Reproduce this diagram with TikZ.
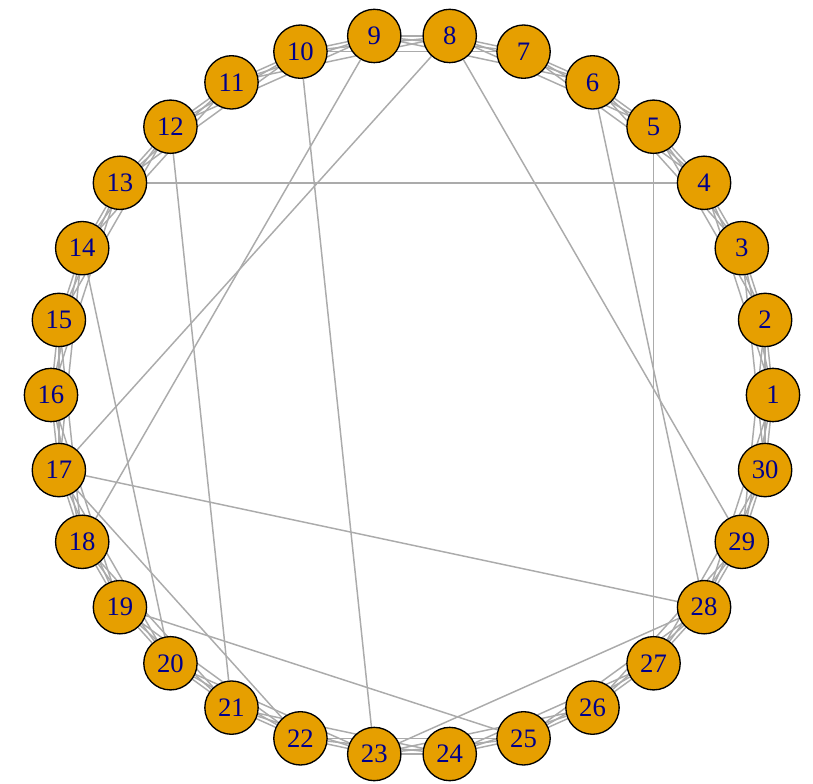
\documentclass[tikz,border=0pt]{standalone}
\usepackage{fontspec}
\setmainfont{Liberation Serif}
\usetikzlibrary{backgrounds}
\definecolor{vfill}{HTML}{E69F00}
\definecolor{vlabel}{HTML}{00008B}
\definecolor{edgegray}{HTML}{ABABAB}

\begin{document}
\begin{tikzpicture}[
    x=0.75pt, y=0.75pt,
    vertex/.style={
        circle, draw=black, line width=1pt,
        fill=vfill, text=vlabel,
        minimum size=40pt, inner sep=0pt,
        font=\fontsize{20}{22}\selectfont,
    },
    link/.style={
        edgegray,
        line width=1.1pt,
    },
]
\useasboundingbox (-412,-389) rectangle (401,395);

% =============================================
% VERTICES – 30 on a ring, 1 on the right, counter-clockwise
% =============================================
\foreach \k in {1,...,30} {
  \pgfmathsetmacro\ang{12*(\k-1)}
  \node[vertex] (v\k) at (\ang:361) {\k};
}

\begin{pgfonlayer}{background}
  % Ring lattice: each vertex to its three next neighbours
  \foreach \a in {1,...,30} {
    \foreach \d in {1,2,3} {
      \pgfmathtruncatemacro\b{mod(\a+\d-1,30)+1}
      \draw[link] (v\a) -- (v\b);
    }
  }
  % Rewired shortcuts across the ring
  \foreach \a/\b in {13/4, 10/23, 12/21, 9/18, 8/17, 8/29, 6/28, 5/27,
                     14/20, 17/28, 17/22, 19/25, 23/28} {
    \draw[link] (v\a) -- (v\b);
  }
\end{pgfonlayer}

\end{tikzpicture}
\end{document}
